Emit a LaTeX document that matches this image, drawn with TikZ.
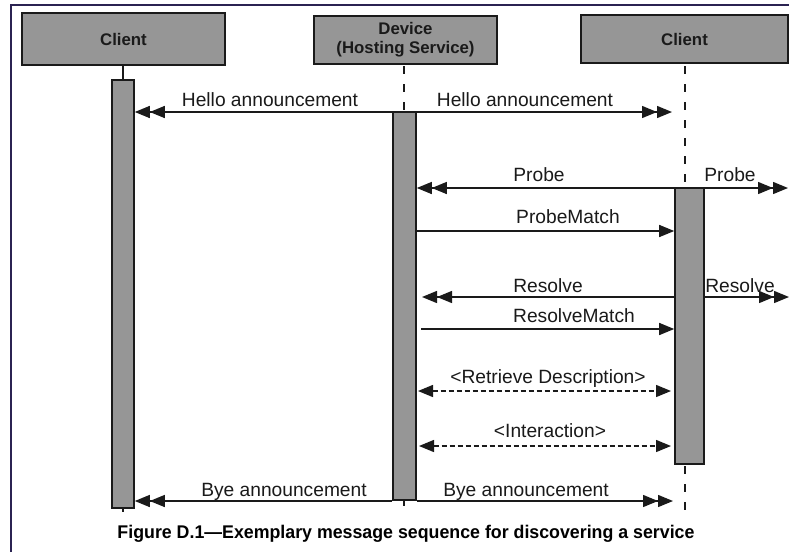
\documentclass[tikz,border=0pt]{standalone}
\usepackage{fontspec}
\usepackage{graphicx}
\setmainfont{Liberation Sans}
\usetikzlibrary{arrows.meta}
\definecolor{framec}{HTML}{2B2352}
\definecolor{boxgray}{HTML}{969696}
\definecolor{inkc}{HTML}{1A1A1A}
\tikzset{
  hdr/.style={draw=inkc, line width=1.8pt, fill=boxgray, text=inkc, font=\bfseries\fontsize{16.8}{19}\selectfont, align=center, inner sep=0pt},
  actbar/.style={draw=inkc, line width=1.6pt, fill=boxgray, inner sep=0pt},
  msg/.style={draw=inkc, line width=1.4pt},
  dmsg/.style={draw=inkc, line width=1.4pt, dash pattern=on 5pt off 3pt},
  lbl/.style={font=\fontsize{19.2}{22}\selectfont, text=inkc, anchor=base, inner sep=0pt},
  dblarr/.style={-{Triangle[length=15pt,width=12pt,sep=0pt]Triangle[length=15pt,width=12pt]}},
  sglarr/.style={-{Triangle[length=15pt,width=12pt]}},
  bothsgl/.style={{Triangle[length=15pt,width=12pt]}-{Triangle[length=15pt,width=12pt]}},
  lifeline/.style={draw=inkc, line width=2pt, dash pattern=on 8pt off 10pt},
  stub/.style={draw=inkc, line width=2pt},
}
\begin{document}
\begin{tikzpicture}[x=1pt,y=-1pt]
\useasboundingbox (0,0) rectangle (789,552);
\fill[white] (0,0) rectangle (789,552);
% frame
\draw[framec, line width=2pt] (11,552) -- (11,5) -- (789,5);
% header boxes
\node[hdr, minimum width=203pt, minimum height=52pt] (c1) at (123.5,39) {Client};
\node[hdr, minimum width=183pt, minimum height=48pt] (dev) at (405.5,40) {Device\\(Hosting Service)};
\node[hdr, minimum width=207pt, minimum height=48pt] (c2) at (684.5,39) {Client};
% lifelines
\coordinate (l1top) at (123,65);
\coordinate (l1bot) at (123,512);
\coordinate (l2top) at (404,66);
\coordinate (l2bot) at (404,511);
\coordinate (l3top) at (685,66);
\coordinate (l3bot) at (685,511);
\coordinate (l3mid) at (685,188);
\coordinate (l3low) at (685,466);
\draw[stub] (l1top) -- (l1bot);
\draw[lifeline] (l2top) -- (l2bot);
\draw[lifeline] (l3top) -- (l3mid);
\draw[lifeline] (l3low) -- (l3bot);
% activation bars
\node[actbar, minimum width=22pt, minimum height=428pt] (b1) at (123,294) {};
\node[actbar, minimum width=23pt, minimum height=388pt] (b2) at (404.5,306) {};
\node[actbar, minimum width=29pt, minimum height=276pt] (b3) at (689.5,326) {};
% free ends
\coordinate (helloR) at (672,112);
\coordinate (probeR) at (788,188);
\coordinate (resL) at (422,297);
\coordinate (resR) at (789,297);
\coordinate (rmL) at (421,329);
\coordinate (retL) at (418,391);
\coordinate (retR) at (671,391);
\coordinate (intL) at (419,446);
\coordinate (intR) at (671,446);
\coordinate (byeR) at (673,501);
% Hello
\draw[msg, dblarr] (b2.west |- 0,112) -- (b1.east |- 0,112);
\draw[msg, dblarr] (b2.east |- 0,112) -- (helloR);
\node[lbl] at (270,106) {Hello announcement};
\node[lbl] at (525,106) {Hello announcement};
% Probe
\draw[msg, dblarr] (l3mid) -- (b2.east |- l3mid);
\draw[msg, dblarr] (l3mid) -- (probeR);
\node[lbl] at (539,181) {Probe};
\node[lbl] at (730,181) {Probe};
% ProbeMatch
\draw[msg, sglarr] (b2.east |- 0,231) -- (b3.west |- 0,231);
\node[lbl] at (568,223) {ProbeMatch};
% Resolve
\draw[msg, dblarr] (b3.west |- resL) -- (resL);
\draw[msg, dblarr] (b3.east |- resR) -- (resR);
\node[lbl] at (548,292) {Resolve};
\node[lbl] at (740,292) {Resolve};
% ResolveMatch
\draw[msg, sglarr] (rmL) -- (b3.west |- rmL);
\node[lbl] at (574,322) {ResolveMatch};
% Retrieve Description
\draw[dmsg, bothsgl] (retL) -- (retR);
\node[lbl] at (548,383) {<Retrieve Description>};
% Interaction
\draw[dmsg, bothsgl] (intL) -- (intR);
\node[lbl] at (550,437) {<Interaction>};
% Bye
\draw[msg, dblarr] (b2.west |- byeR) -- (b1.east |- byeR);
\draw[msg, dblarr] (b2.east |- byeR) -- (byeR);
\node[lbl] at (284,496) {Bye announcement};
\node[lbl] at (526,496) {Bye announcement};
% caption
\node[anchor=base, inner sep=0pt, text=black] (cap) at (406,538) {\resizebox{577pt}{13.3pt}{\bfseries Figure D.1—Exemplary message sequence for discovering a service}};
\end{tikzpicture}
\end{document}
